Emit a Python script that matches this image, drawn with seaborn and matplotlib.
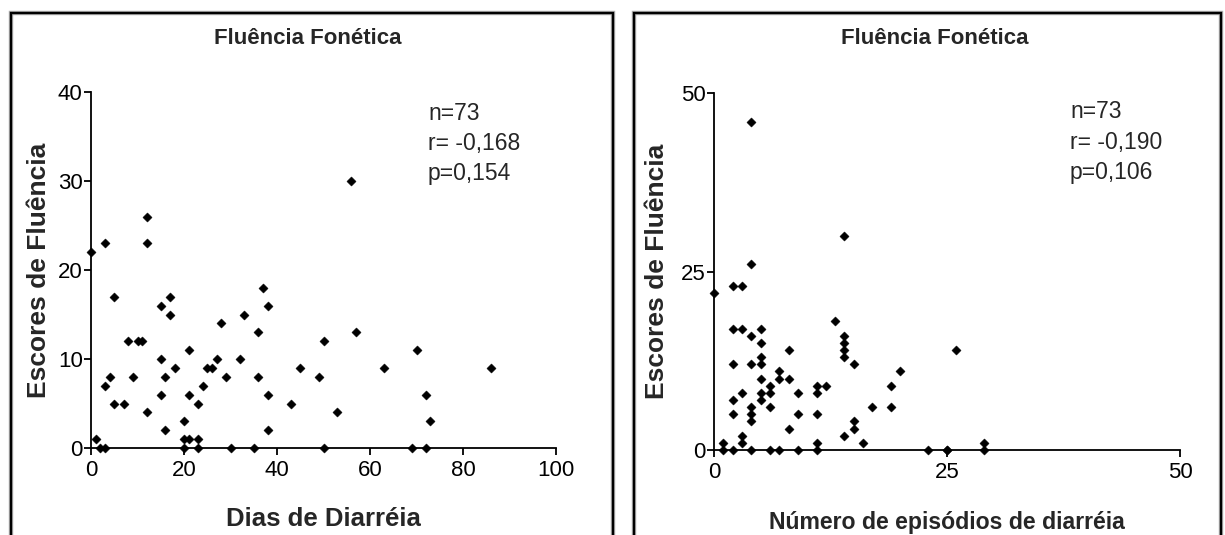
import matplotlib
matplotlib.use("Agg")
import matplotlib.pyplot as plt
import seaborn as sns
import pandas as pd
from matplotlib.patches import Rectangle

# ---- data ----
dias_x = [0, 1, 2, 3, 3, 4, 5, 5, 7, 8, 9, 10, 11, 12, 15, 15, 15, 16, 16, 17,
          17, 18, 20, 20, 20, 21, 21, 21, 23, 23, 23, 24, 25, 26, 27, 28, 29, 30,
          32, 33, 35, 36, 36, 37, 38, 38, 38, 43, 45, 49, 50, 50, 3, 12, 12, 56,
          57, 53, 63, 69, 70, 72, 72, 73, 86]
dias_y = [22, 1, 0, 0, 7, 8, 17, 5, 5, 12, 8, 12, 12, 4, 16, 10, 6, 2, 8, 17,
          15, 9, 3, 1, 0, 1, 11, 6, 5, 1, 0, 7, 9, 9, 10, 14, 8, 0,
          10, 15, 0, 13, 8, 18, 16, 6, 2, 5, 9, 8, 12, 0, 23, 26, 23, 30,
          13, 4, 9, 0, 11, 6, 0, 3, 9]

epis_x = [0, 1, 1, 2, 2, 3, 4, 2, 3, 4, 5, 5, 5, 5, 4, 2, 5, 6, 6, 7, 7, 8, 8,
          5, 5, 6, 3, 2, 2, 4, 4, 4, 3, 3, 4, 6, 7, 8, 9, 9, 9, 11, 11, 12, 11,
          11, 11, 13, 14, 14, 14, 14, 15, 15, 15, 14, 16, 17, 19, 19, 20, 23, 25,
          4, 14, 26, 25, 29, 29]
epis_y = [22, 1, 0, 0, 23, 23, 26, 17, 17, 16, 17, 15, 13, 12, 12, 12, 10, 9, 8,
          11, 10, 14, 10, 8, 7, 6, 8, 7, 5, 6, 5, 4, 2, 1, 0, 0, 0, 3, 8, 5, 0,
          9, 8, 9, 5, 1, 0, 18, 16, 15, 14, 13, 12, 4, 3, 2, 1, 6, 6, 9, 11, 0,
          0, 46, 30, 14, 0, 1, 0]

title_txt = "Fluência Fonética"
ylabel_txt = "Escores de Fluência"
xlabel_left = "Dias de Diarréia"
xlabel_right = "Número de episódios de diarréia"
stats_left = "n=73\nr= -0,168\np=0,154"
stats_right = "n=73\nr= -0,190\np=0,106"
xticks_left = [0, 20, 40, 60, 80, 100]
yticks_left = [0, 10, 20, 30, 40]
ticks_right = [0, 25, 50]

df_left = pd.DataFrame({"x": dias_x, "y": dias_y})
df_right = pd.DataFrame({"x": epis_x, "y": epis_y})

sns.set_style("ticks")
plt.rcParams["font.family"] = ["Liberation Sans", "DejaVu Sans"]

W, H = 1225, 535
fig = plt.figure(figsize=(W / 100, H / 100), dpi=100)

def fx(px):
    return px / W

def fy(py):
    return 1 - py / H

# panel frames
for x0, x1 in [(11, 613), (634, 1221)]:
    for lw, col in [(3.2, "#b0b0b0"), (1.7, "black")]:
        r = Rectangle((fx(x0), fy(560)), fx(x1 - x0), (560 - 13) / H,
                      transform=fig.transFigure, fill=False, lw=lw,
                      edgecolor=col, clip_on=False)
        fig.patches.append(r)

ax1 = fig.add_axes([fx(91), fy(448), fx(556 - 91), (448 - 92) / H])
ax2 = fig.add_axes([fx(714), fy(450), fx(1180 - 714), (450 - 93) / H])

for ax, df in [(ax1, df_left), (ax2, df_right)]:
    sns.scatterplot(data=df, x="x", y="y", ax=ax, marker="D", s=22,
                    color="black", edgecolor="black", linewidth=0.3,
                    clip_on=False, zorder=5)
    for sp in ["top", "right"]:
        ax.spines[sp].set_visible(False)
    for sp in ["left", "bottom"]:
        ax.spines[sp].set_linewidth(1.3)
        ax.spines[sp].set_color("black")
    ax.tick_params(direction="out", length=5, width=1.3, colors="black",
                   labelsize=16)
    ax.tick_params(axis="x", pad=4)
    ax.tick_params(axis="y", pad=1)
    ax.set_facecolor("white")
    ax.set_ylabel(ylabel_txt, fontsize=19, fontweight="bold")

ax1.set_xlim(0, 100)
ax1.set_ylim(0, 40)
ax1.set_xticks(xticks_left)
ax1.set_yticks(yticks_left)
ax1.set_xlabel(xlabel_left, fontsize=18.5, fontweight="bold")
ax1.yaxis.set_label_coords((51 - 91) / 465, 0.5)
ax1.xaxis.set_label_coords(0.5, -0.165)

ax2.set_xlim(0, 50)
ax2.set_ylim(0, 50)
ax2.set_xticks(ticks_right)
ax2.set_yticks(ticks_right)
ax2.set_xlabel(xlabel_right, fontsize=16.6, fontweight="bold")
ax2.yaxis.set_label_coords((669 - 714) / 466, 0.5)
ax2.xaxis.set_label_coords(0.5, -0.17)

fig.text(fx(308), fy(38), title_txt, ha="center", va="center",
         fontsize=16, fontweight="bold")
fig.text(fx(935), fy(38), title_txt, ha="center", va="center",
         fontsize=16, fontweight="bold")

fig.text(fx(428), fy(143.5), stats_left, ha="left", va="center",
         fontsize=16.5, linespacing=1.4)
fig.text(fx(1070), fy(142), stats_right, ha="left", va="center",
         fontsize=16.5, linespacing=1.4)

fig.savefig("out.png", dpi=100, facecolor="white")
